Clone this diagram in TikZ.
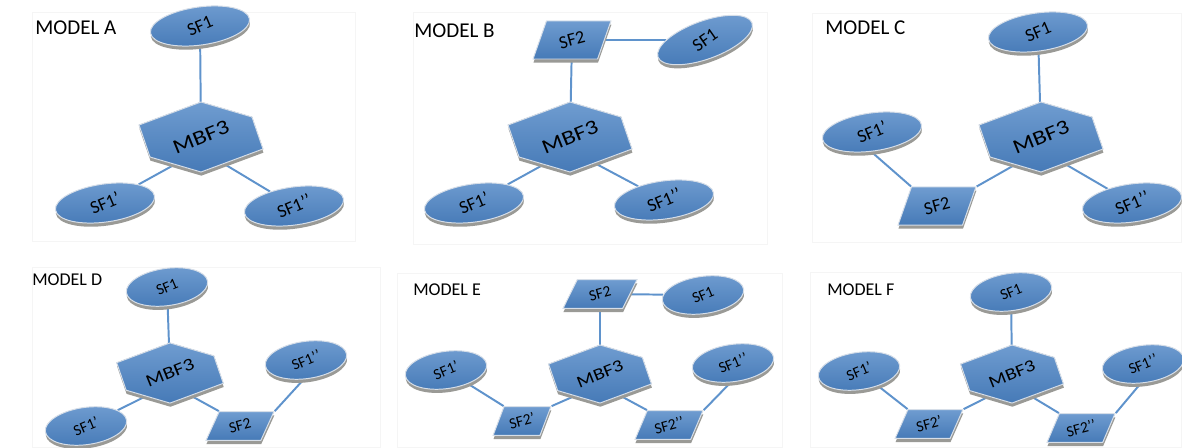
\documentclass[tikz,border=0pt]{standalone}
\usepackage{fontspec}
\setmainfont{Carlito}
\usetikzlibrary{shapes.geometric, shadows, backgrounds, calc}
\definecolor{sfblue}{HTML}{467AB7}
\definecolor{sflight}{HTML}{6F9CD0}
\definecolor{rimgray}{HTML}{9A9A96}
\definecolor{edgewhite}{HTML}{D6DEE8}
\definecolor{linkblue}{HTML}{5F93CC}

\newcommand{\bigfont}{\fontsize{15}{17}\selectfont}
\newcommand{\smallfont}{\fontsize{12.8}{15}\selectfont}
\newcommand{\topfont}{\fontsize{13}{15}\selectfont}
\newcommand{\lowfont}{\fontsize{11}{13}\selectfont}
\newcommand{\tilt}[1]{\rotatebox{15}{#1}}

\tikzset{
  sfbody/.style={top color=sflight, bottom color=sfblue, draw=edgewhite, line width=0.7pt,
    drop shadow={shadow xshift=0.3pt, shadow yshift=-2.6pt, fill=rimgray, opacity=1}},
  sfbig/.style={ellipse, sfbody, minimum width=2.5cm, minimum height=0.95cm,
    inner sep=0pt, rotate=8, font=\topfont},
  sfsmall/.style={ellipse, sfbody, minimum width=2.05cm, minimum height=0.93cm,
    inner sep=0pt, rotate=8, font=\lowfont},
  parbig/.style={trapezium, trapezium left angle=68, trapezium right angle=112,
    trapezium stretches=true, sfbody, minimum width=1.95cm, minimum height=0.95cm,
    inner sep=0pt, font=\topfont},
  parsmall/.style={trapezium, trapezium left angle=64, trapezium right angle=116,
    trapezium stretches=true, sfbody, minimum width=1.7cm, minimum height=0.72cm,
    inner sep=0pt, font=\lowfont},
  link/.style={draw=linkblue, line width=1.4pt},
  panel/.style={draw=black!4, line width=0.6pt},
  modellabel/.style={anchor=base west, inner sep=0pt}
}

% hexagon: name, centre, scale, font
\newcommand{\mbfhex}[4]{%
  \begin{scope}[shift={#2}, scale=#3]
    \filldraw[sfbody] (0,-35) -- (51,-20) -- (62,12) -- (0,35) -- (-51,20) -- (-62,-12) -- cycle;
    \node[font=#4, inner sep=0pt] (#1) at (0,0) {\rotatebox{22}{\scalebox{1.22}[1]{MBF3}}};
    \coordinate (#1-low) at (0,13);
  \end{scope}}

\begin{document}
\begin{tikzpicture}[x=0.025cm, y=-0.025cm]
  \useasboundingbox (0,0) rectangle (1182,447);

  % Model A
  \node[modellabel, font=\bigfont] (labA) at (35,34) {MODEL A};
  \node[sfbig] (sfoneA) at (200,26) {\tilt{SF1}};
  \mbfhex{mbfA}{(201,137)}{1}{\fontsize{14.5}{16}\selectfont}
  \node[sfbig] (sfpA) at (105,203) {\tilt{SF1’}};
  \node[sfbig] (sfppA) at (294,206) {\tilt{SF1’’}};

  % Model B
  \node[modellabel, font=\bigfont] (labB) at (414,37) {MODEL B};
  \node[parbig] (partwoB) at (572,40) {\tilt{SF2}};
  \node[sfbig, rotate=12] (sfoneB) at (705,40) {\tilt{SF1}};
  \mbfhex{mbfB}{(570,137)}{1}{\fontsize{14.5}{16}\selectfont}
  \node[sfbig] (sfpB) at (474,203) {\tilt{SF1’}};
  \node[sfbig] (sfppB) at (664,200) {\tilt{SF1’’}};

  % Model C
  \node[modellabel, font=\bigfont] (labC) at (825,34) {MODEL C};
  \node[sfbig] (sfoneC) at (1038,32) {\tilt{SF1}};
  \mbfhex{mbfC}{(1041,137)}{1}{\fontsize{14.5}{16}\selectfont}
  \node[sfbig] (sfpC) at (872,132) {\tilt{SF1’}};
  \node[parbig] (partwoC) at (937,206) {\tilt{SF2}};
  \node[sfbig] (sfppC) at (1132,203) {\tilt{SF1’’}};

  % Model D
  \node[modellabel, font=\smallfont] (labD) at (32,285) {MODEL D};
  \node[sfsmall] (sfoneD) at (167,287) {\tilt{SF1}};
  \mbfhex{mbfD}{(170,373)}{0.86}{\fontsize{12.5}{14}\selectfont}
  \node[sfsmall] (sfpD) at (86,426) {\tilt{SF1’}};
  \node[parsmall] (partwoD) at (240,426) {\tilt{SF2}};
  \node[sfsmall] (sfppD) at (306,360) {\tilt{SF1’’}};

  % Model E
  \node[modellabel, font=\smallfont] (labE) at (413,295) {MODEL E};
  \node[parsmall, minimum width=1.85cm] (partwoE) at (600,294) {\tilt{SF2}};
  \node[sfsmall] (sfoneE) at (703,295) {\tilt{SF1}};
  \mbfhex{mbfE}{(600,374)}{0.83}{\fontsize{12}{14}\selectfont}
  \node[sfsmall] (sfpE) at (446,370) {\tilt{SF1’}};
  \node[parsmall, minimum width=1.45cm] (partwopE) at (522,421) {\tilt{SF2’}};
  \node[parsmall] (partwoppE) at (669,425) {\tilt{SF2’’}};
  \node[sfsmall] (sfppE) at (733,363) {\tilt{SF1’’}};

  % Model F
  \node[modellabel, font=\smallfont] (labF) at (827,295) {MODEL F};
  \node[sfsmall] (sfoneF) at (1011,292) {\tilt{SF1}};
  \mbfhex{mbfF}{(1012,374)}{0.83}{\fontsize{12}{14}\selectfont}
  \node[sfsmall] (sfpF) at (859,371) {\tilt{SF1’}};
  \node[parsmall] (partwopF) at (929,424) {\tilt{SF2’}};
  \node[parsmall] (partwoppF) at (1081,428) {\tilt{SF2’’}};
  \node[sfsmall] (sfppF) at (1143,364) {\tilt{SF1’’}};

  \begin{scope}[on background layer]
    % panels
    \draw[panel] (32,12) rectangle (355,241);
    \draw[panel] (413,12) rectangle (767,244);
    \draw[panel] (812,13) rectangle (1181,242);
    \draw[panel] (32,267) rectangle (380,447);
    \draw[panel] (397,273) rectangle (782,447);
    \draw[panel] (810,272) rectangle (1181,447);
    % connectors
    \draw[link] (sfoneA) -- (mbfA);
    \draw[link] (mbfA-low) -- (sfpA);
    \draw[link] (mbfA-low) -- (sfppA);
    \draw[link] (partwoB) -- (sfoneB);
    \draw[link] (partwoB) -- (mbfB);
    \draw[link] (mbfB-low) -- (sfpB);
    \draw[link] (mbfB-low) -- (sfppB);
    \draw[link] (sfoneC) -- (mbfC);
    \draw[link] (sfpC.260) -- (partwoC.top left corner);
    \draw[link] (partwoC.top right corner) -- (mbfC-low);
    \draw[link] (mbfC-low) -- (sfppC);
    \draw[link] (sfoneD) -- (mbfD);
    \draw[link] (mbfD-low) -- (sfpD);
    \draw[link] (mbfD-low) -- (partwoD.top left corner);
    \draw[link] (partwoD.top right corner) -- (sfppD.255);
    \draw[link] (partwoE) -- (sfoneE);
    \draw[link] (partwoE) -- (mbfE);
    \draw[link] (sfpE) -- (partwopE.top left corner);
    \draw[link] (partwopE.top right corner) -- (mbfE-low);
    \draw[link] (mbfE-low) -- (partwoppE.top left corner);
    \draw[link] (partwoppE.top right corner) -- (sfppE.255);
    \draw[link] (sfoneF) -- (mbfF);
    \draw[link] (sfpF) -- (partwopF.top left corner);
    \draw[link] (partwopF.top right corner) -- (mbfF-low);
    \draw[link] (mbfF-low) -- (partwoppF.top left corner);
    \draw[link] (partwoppF.top right corner) -- (sfppF.255);
  \end{scope}
\end{tikzpicture}
\end{document}
